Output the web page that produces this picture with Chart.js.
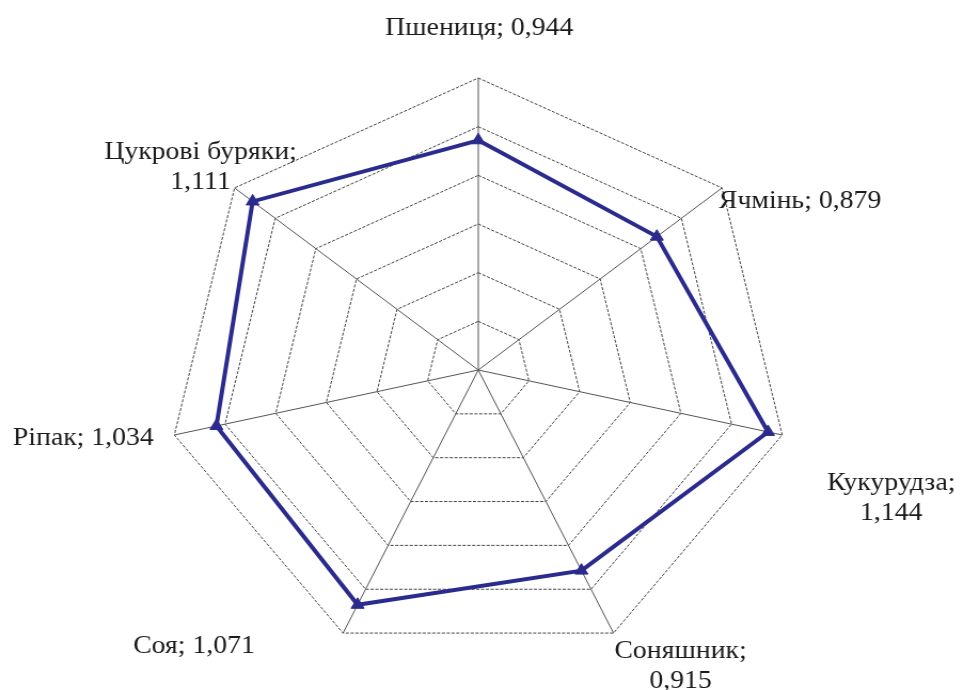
<!DOCTYPE html>
<html>
<head>
<meta charset="utf-8">
<script src="https://cdn.jsdelivr.net/npm/chart.js@4"></script>
<style>
  html, body { margin: 0; padding: 0; background: #fff; overflow: hidden; }
  #wrap {
    position: absolute; left: 0; top: 0;
    width: 902px; height: 690px;
    transform: scaleX(1.0676); transform-origin: 0 0;
  }
</style>
</head>
<body>
<div id="wrap"><canvas id="radarChart"></canvas></div>
<script>
// crops and their index values
const crops = ['Пшениця', 'Ячмінь', 'Кукурудза', 'Соняшник', 'Соя', 'Ріпак', 'Цукрові буряки'];
const values = [0.944, 0.879, 1.144, 0.915, 1.071, 1.034, 1.111];
const splitLabel = [false, false, true, true, false, false, true];

// scale settings
const scaleMax = 1.2;
const scaleStep = 0.2;

const STRETCH = 1.0676;
// label shift from outer vertex (page px, baseline of first line)
const labelShift = [[1, -43], [78, 20], [109, 55], [67, 25], [-149, 20], [-91, 10], [-34, -29]];

const fmt = v => v.toFixed(3).replace('.', ',');

const bgPlugin = {
  id: 'whiteBg',
  beforeDraw(chart) {
    const ctx = chart.ctx;
    ctx.save();
    ctx.fillStyle = '#fff';
    ctx.fillRect(0, 0, chart.width, chart.height);
    ctx.restore();
  }
};

const labelPlugin = {
  id: 'cropLabels',
  afterDraw(chart) {
    const r = chart.scales.r;
    const ctx = chart.ctx;
    ctx.save();
    ctx.font = '26px "Liberation Serif"';
    ctx.fillStyle = '#1a1a1a';
    ctx.textAlign = 'center';
    ctx.textBaseline = 'alphabetic';
    crops.forEach((name, i) => {
      const p = r.getPointPosition(i, r.drawingArea);
      const x = p.x + labelShift[i][0] / STRETCH;
      const y = p.y + labelShift[i][1];
      const lines = splitLabel[i] ? [name + ';', fmt(values[i])] : [name + '; ' + fmt(values[i])];
      lines.forEach((t, j) => ctx.fillText(t, x, y + j * 30));
    });
    ctx.restore();
  }
};

const ctx = document.getElementById('radarChart');
new Chart(ctx, {
  type: 'radar',
  data: {
    labels: crops,
    datasets: [{
      label: 'Індекс',
      data: values,
      borderColor: '#2B2B8E',
      backgroundColor: '#2B2B8E',
      borderWidth: 4,
      fill: false,
      tension: 0,
      pointStyle: 'triangle',
      pointRadius: 7,
      pointBackgroundColor: '#2B2B8E',
      pointBorderColor: '#2B2B8E',
      pointBorderWidth: 1
    }]
  },
  options: {
    responsive: true,
    maintainAspectRatio: false,
    animation: false,
    layout: {
      padding: { top: 78, bottom: 28, left: 100, right: 105 }
    },
    scales: {
      r: {
        min: 0,
        max: scaleMax,
        ticks: { display: false, stepSize: scaleStep },
        pointLabels: { display: false },
        grid: { color: '#444', lineWidth: 1 },
        border: { dash: [3, 1.5] },
        angleLines: { color: '#555', lineWidth: 1 }
      }
    },
    plugins: {
      legend: { display: false },
      tooltip: { enabled: false }
    }
  },
  plugins: [bgPlugin, labelPlugin]
});
</script>
</body>
</html>
